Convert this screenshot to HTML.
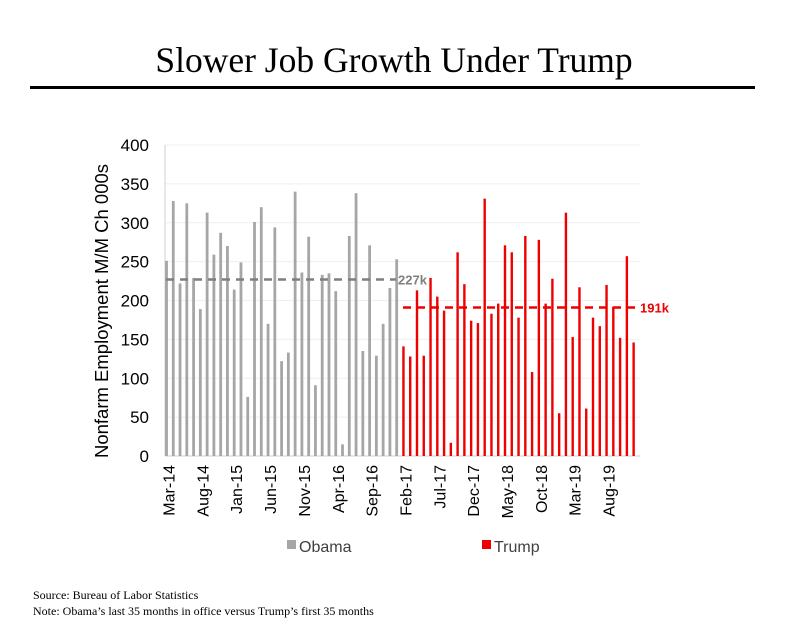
<!DOCTYPE html>
<html><head><meta charset="utf-8"><style>
body{margin:0;background:#fff;width:794px;height:643px;overflow:hidden;}
svg{display:block}
</style></head><body>
<svg id="chart" width="794" height="643" xmlns="http://www.w3.org/2000/svg">
<text x="394" y="72" text-anchor="middle" font-family="Liberation Serif, serif" font-size="35.5" fill="#000">Slower Job Growth Under Trump</text>
<rect x="30" y="86" width="725" height="3" fill="#000"/>
<text x="33" y="599" font-family="Liberation Serif, serif" font-size="12" fill="#000">Source: Bureau of Labor Statistics</text>
<text x="33" y="615" font-family="Liberation Serif, serif" font-size="12" fill="#000">Note: Obama’s last 35 months in office versus Trump’s first 35 months</text>
<text transform="translate(108,311) rotate(-90)" text-anchor="middle" font-family="Liberation Sans, sans-serif" font-size="18.5" fill="#000">Nonfarm Employment M/M Ch 000s</text>
<g id="grid"></g><g id="bars"></g><g id="labels"></g>
<rect x="287" y="540" width="9" height="9" fill="#a6a6a6"/>
<text x="299" y="552" font-family="Liberation Sans, sans-serif" font-size="16" fill="#404040">Obama</text>
<rect x="482" y="540" width="9" height="9" fill="#ee0000"/>
<text x="494" y="552" font-family="Liberation Sans, sans-serif" font-size="16" fill="#404040">Trump</text>
</svg>
<script>
const obama=[251,328,222,325,229,189,313,259,287,270,214,249,76,301,320,170,294,122,133,340,236,282,91,233,235,212,15,283,338,135,271,129,170,216,253];
const trump=[141,128,213,129,229,205,187,17,262,221,174,171,331,183,196,271,262,178,283,108,278,196,228,55,313,153,217,61,178,167,220,192,152,257,146];
const xLabels=["Mar-14","Aug-14","Jan-15","Jun-15","Nov-15","Apr-16","Sep-16","Feb-17","Jul-17","Dec-17","May-18","Oct-18","Mar-19","Aug-19"];
const yTicks=[0,50,100,150,200,250,300,350,400];
const obamaAvg=227, trumpAvg=191;
const NS="http://www.w3.org/2000/svg";
const y0=456, pxPer=311/400, x0=166.5, step=6.77;
const Y=v=>y0-v*pxPer, X=i=>x0+i*step;
function mk(t,a,p){const e=document.createElementNS(NS,t);for(const k in a)e.setAttribute(k,a[k]);p.appendChild(e);return e;}
const grid=document.getElementById('grid'),bars=document.getElementById('bars'),labs=document.getElementById('labels');
yTicks.forEach(v=>{
  const l=mk('line',{x1:165,x2:640,y1:Y(v),y2:Y(v),stroke:v===0?'#d0d0d0':'#efefef','stroke-width':1},grid);
  
  
  const t=mk('text',{x:149,y:Y(v)+6,'text-anchor':'end','font-family':'Liberation Sans, sans-serif','font-size':17,fill:'#000'},labs);
  t.textContent=v;
  
  
});
const ax=mk('line',{x1:165,x2:165,y1:145,y2:456,stroke:'#d0d0d0','stroke-width':1},grid);


const all=obama.concat(trump);
all.forEach((v,i)=>{
  const isO=i<obama.length;
  const w=isO?2.8:2.4;
  const r=mk('rect',{x:X(i)-w/2,y:Y(v),width:w,height:v*pxPer,fill:isO?'#a6a6a6':'#ee0000'},bars);
  
  
});
xLabels.forEach((s,k)=>{
  const x=X(k*5)+8;
  const t=mk('text',{transform:`translate(${x},465) rotate(-90)`,'text-anchor':'end','font-family':'Liberation Sans, sans-serif','font-size':16,fill:'#000'},labs);
  t.textContent=s;
  
  
});
const l1=mk('line',{x1:166,x2:396,y1:Y(obamaAvg),y2:Y(obamaAvg),stroke:'#7f7f7f','stroke-width':2.5,'stroke-dasharray':'8,6'},bars);


const t1=mk('text',{x:398,y:Y(obamaAvg)+5,'font-family':'Liberation Sans, sans-serif','font-size':13,'font-weight':'bold',fill:'#7f7f7f'},labs);
t1.textContent=obamaAvg+'k';


const l2=mk('line',{x1:403,x2:636,y1:Y(trumpAvg),y2:Y(trumpAvg),stroke:'#ee0000','stroke-width':2.5,'stroke-dasharray':'8,6'},bars);


const t2=mk('text',{x:640,y:Y(trumpAvg)+5,'font-family':'Liberation Sans, sans-serif','font-size':13,'font-weight':'bold',fill:'#ee0000'},labs);
t2.textContent=trumpAvg+'k';


</script>
</body></html>
